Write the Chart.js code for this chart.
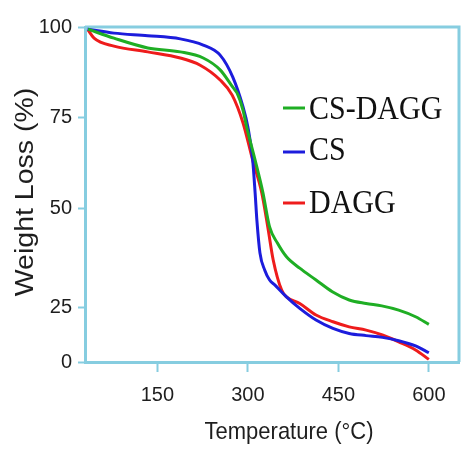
<!DOCTYPE html>
<html>
<head>
<meta charset="utf-8">
<title>TGA curves</title>
<script src="https://cdn.jsdelivr.net/npm/chart.js@4.4.1/dist/chart.umd.min.js"></script>
<style>
  html, body { margin: 0; padding: 0; background: #fff; }
  canvas { display: block; }
</style>
</head>
<body>
<canvas id="tgaChart" width="461" height="449"></canvas>
<script>
// values (temperature in °C, weight in %)
const csDaggTemp = [35, 78, 134, 188, 226, 254, 275, 282, 292, 298, 312, 325, 336, 349, 364, 386, 413, 440, 468, 496, 522, 550, 578, 600];
const csDaggWeight = [99.4, 96.9, 94.2, 93.1, 91.4, 88.1, 83.3, 81.7, 76.9, 72.3, 63.3, 54.4, 45.4, 41.3, 37.8, 34.9, 31.9, 28.9, 26.8, 25.9, 25.3, 23.6, 20.6, 17.1];

const csTemp = [34, 78, 134, 188, 226, 254, 275, 292, 300, 308, 312, 315, 320, 328, 336, 345, 364, 386, 413, 441, 468, 496, 523, 550, 578, 600];
const csWeight = [99.4, 98.3, 97.6, 96.7, 95.0, 92.2, 86.1, 77.8, 72.3, 63.3, 54.4, 47.0, 38.8, 34.4, 31.9, 30.6, 27.6, 24.4, 19.1, 15.3, 13.0, 12.0, 11.2, 9.7, 7.3, 4.2];

const daggTemp = [35, 45, 78, 134, 188, 221, 254, 274, 292, 308, 323, 333, 342, 356, 364, 386, 413, 441, 468, 496, 523, 550, 578, 600];
const daggWeight = [99.2, 96.9, 94.7, 93.1, 91.4, 89.4, 85.3, 81.1, 73.4, 63.3, 54.4, 45.4, 37.0, 29.3, 27.6, 25.9, 21.4, 18.3, 16.0, 14.5, 12.3, 9.2, 5.5, 1.2];

const seriesNames = ['CS-DAGG', 'CS', 'DAGG'];
const xTicks = [150, 300, 450, 600];
const yTicks = [0, 25, 50, 75, 100];

const axisColor = '#86cde0';
const textColor = '#1e1e1e';
const lineColors = ['#1fae24', '#1c1cdc', '#ee1c1c'];

// the printed y axis is not evenly spaced; where each tick sits as a fraction of the axis height
const yTickSpots = [0, 0.164, 0.457, 0.731, 1];

class UnevenScale extends Chart.LinearScale {
  getPixelForValue(value) {
    let i = 1;
    while (i < yTicks.length - 1 && value > yTicks[i]) i++;
    const f = (value - yTicks[i - 1]) / (yTicks[i] - yTicks[i - 1]);
    return this.getPixelForDecimal(yTickSpots[i - 1] + f * (yTickSpots[i] - yTickSpots[i - 1]));
  }
  getValueForPixel(pixel) {
    const d = this.getDecimalForPixel(pixel);
    let i = 1;
    while (i < yTickSpots.length - 1 && d > yTickSpots[i]) i++;
    const f = (d - yTickSpots[i - 1]) / (yTickSpots[i] - yTickSpots[i - 1]);
    return yTicks[i - 1] + f * (yTicks[i] - yTicks[i - 1]);
  }
}
UnevenScale.id = 'uneven';
UnevenScale.defaults = Chart.LinearScale.defaults;
Chart.register(UnevenScale);

const toPoints = (xs, ys) => xs.map((x, i) => ({ x: x, y: ys[i] }));

// frame, axis titles and the legend sitting inside the plot
const decorations = {
  id: 'decorations',
  beforeDatasetsDraw(chart) {
    const { ctx, chartArea: a } = chart;
    ctx.save();
    ctx.strokeStyle = axisColor;
    ctx.lineWidth = 3;
    ctx.beginPath();
    ctx.moveTo(a.left, a.top);
    ctx.lineTo(a.right, a.top);
    ctx.lineTo(a.right, a.bottom);
    ctx.stroke();
    ctx.restore();
  },
  afterDraw(chart) {
    const ctx = chart.ctx;
    ctx.save();
    ctx.fillStyle = textColor;
    ctx.textAlign = 'center';
    ctx.textBaseline = 'alphabetic';

    ctx.font = '22px "Liberation Sans", Arial, sans-serif';
    ctx.save();
    ctx.translate(289, 439);
    ctx.scale(1, 1.1);
    ctx.fillText('Temperature (°C)', 0, 0);
    ctx.restore();

    ctx.font = '25px "Liberation Sans", Arial, sans-serif';
    ctx.save();
    ctx.translate(33, 192);
    ctx.rotate(-Math.PI / 2);
    ctx.scale(1.14, 1);
    ctx.fillText('Weight Loss (%)', 0, 0);
    ctx.restore();

    // legend
    const rows = [[108, 119], [152, 160], [203, 213]];
    ctx.textAlign = 'left';
    ctx.font = '30px "Liberation Serif", "Times New Roman", serif';
    chart.data.datasets.forEach((ds, i) => {
      const [lineY, baseY] = rows[i];
      ctx.strokeStyle = ds.borderColor;
      ctx.lineWidth = 3;
      ctx.beginPath();
      ctx.moveTo(283, lineY);
      ctx.lineTo(305, lineY);
      ctx.stroke();
      ctx.save();
      ctx.fillStyle = '#111';
      ctx.translate(309, baseY);
      ctx.scale(1, 1.12);
      ctx.fillText(ds.label, 0, 0);
      ctx.restore();
    });
    ctx.restore();
  }
};

Chart.defaults.font.family = '"Liberation Sans", Arial, sans-serif';

new Chart(document.getElementById('tgaChart'), {
  type: 'line',
  data: {
    datasets: [
      { label: seriesNames[0], data: toPoints(csDaggTemp, csDaggWeight), borderColor: lineColors[0] },
      { label: seriesNames[1], data: toPoints(csTemp, csWeight), borderColor: lineColors[1] },
      { label: seriesNames[2], data: toPoints(daggTemp, daggWeight), borderColor: lineColors[2] },
    ],
  },
  options: {
    responsive: false,
    animation: false,
    devicePixelRatio: 1,
    layout: { padding: { top: 27, right: 2, left: 0, bottom: 0 } },
    elements: {
      line: { borderWidth: 3, cubicInterpolationMode: 'monotone', fill: false },
      point: { radius: 0 },
    },
    plugins: {
      legend: { display: false },
      tooltip: { enabled: false },
    },
    scales: {
      x: {
        type: 'linear',
        position: 'bottom',
        min: 30,
        max: 650,
        afterBuildTicks: (s) => { s.ticks = xTicks.map((v) => ({ value: v })); },
        afterFit: (s) => { s.height = 87; },
        ticks: { color: textColor, font: { size: 20 }, padding: 11, maxRotation: 0, autoSkip: false },
        grid: { drawOnChartArea: false, tickLength: 10, tickColor: axisColor, tickWidth: 2 },
        border: { color: axisColor, width: 3 },
      },
      y: {
        type: 'uneven',
        position: 'left',
        min: 0,
        max: 100,
        afterBuildTicks: (s) => { s.ticks = yTicks.map((v) => ({ value: v })); },
        afterFit: (s) => { s.width = 85; },
        ticks: { color: textColor, font: { size: 20 }, padding: 6 },
        grid: { drawOnChartArea: false, tickLength: 7, tickColor: axisColor, tickWidth: 2 },
        border: { color: axisColor, width: 3 },
      },
    },
  },
  plugins: [decorations],
});
</script>
</body>
</html>
